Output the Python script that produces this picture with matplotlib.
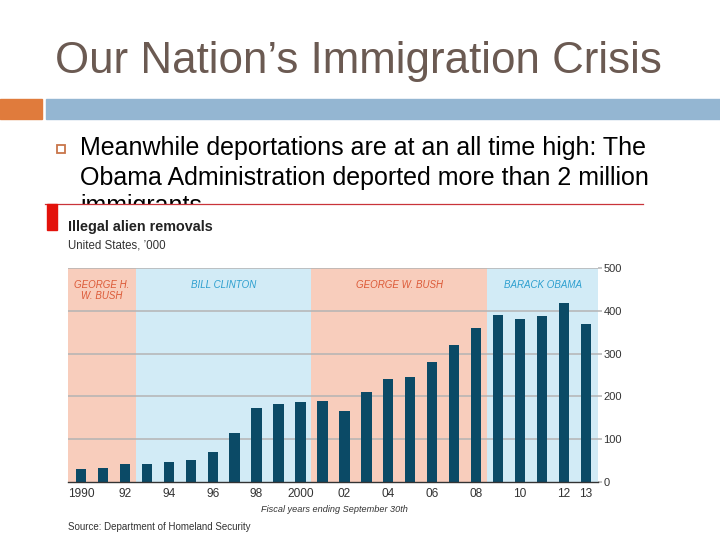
#!/usr/bin/env python3
"""Slide: Our Nation's Immigration Crisis, with the illegal alien removals chart."""

import matplotlib
matplotlib.use("Agg")
import matplotlib.pyplot as plt
from matplotlib.patches import Rectangle

# ---------------------------------------------------------------------------
# Data
# ---------------------------------------------------------------------------

years = list(range(1990, 2014))
removals = [30, 33, 43, 43, 46, 51, 70, 114, 174, 183, 188, 189,
            165, 211, 240, 246, 281, 319, 359, 391, 382, 387, 418, 368]

tick_years = [1990, 1992, 1994, 1996, 1998, 2000, 2002, 2004, 2006, 2008, 2010, 2012, 2013]
tick_labels = ["1990", "92", "94", "96", "98", "2000", "02", "04", "06", "08", "10", "12", "13"]
y_ticks = [0, 100, 200, 300, 400, 500]

# presidencies: (start, end, label)
terms = [
    (1989.41, 1992.5, "GEORGE H.\nW. BUSH"),
    (1992.5, 2000.5, "BILL CLINTON"),
    (2000.5, 2008.5, "GEORGE W. BUSH"),
    (2008.5, 2013.55, "BARACK OBAMA"),
]

slide_title = "Our Nation\u2019s Immigration Crisis"
bullet_lines = [
    "Meanwhile deportations are at an all time high: The",
    "Obama Administration deported more than 2 million",
    "immigrants",
]
bullet_baselines = [154.5, 184.5, 213]   # px from top

# ---------------------------------------------------------------------------
# Style
# ---------------------------------------------------------------------------

W, H = 720, 540
FONT = "Liberation Sans"
PINK, BLUE = "#f8cdbc", "#d2ebf6"
PINK_TXT, BLUE_TXT = "#dc5a38", "#2d9fcf"
BAR = "#0b4a66"
DARK = "#333333"


def fx(x):
    return x / W


def fy(y):
    return 1 - y / H


fig = plt.figure(figsize=(W / 100, H / 100), dpi=100)
fig.patch.set_facecolor("white")

# --- slide header ---------------------------------------------------------
fig.text(fx(55), fy(72.5), slide_title, fontsize=31.6, color="#6b5a52",
         family=FONT, va="baseline", ha="left")
fig.patches.append(Rectangle((fx(0), fy(119)), fx(42), 20 / H,
                             transform=fig.transFigure, color="#e07b3c", zorder=1))
fig.patches.append(Rectangle((fx(46), fy(119)), fx(W - 46), 20 / H,
                             transform=fig.transFigure, color="#94b6d2", zorder=1))

# bullet
fig.patches.append(Rectangle((fx(56.5), fy(153)), 8 / W, 8 / H, transform=fig.transFigure,
                             facecolor="none", edgecolor="#c8754a", lw=1.3, zorder=2))
for line, yb in zip(bullet_lines, bullet_baselines):
    fig.text(fx(80.5), fy(yb), line, fontsize=18, color="black",
             family=FONT, va="baseline", ha="left", zorder=3)

# --- embedded chart image (covers the last bullet line) ---------------------
fig.patches.append(Rectangle((fx(45), 0), fx(600), fy(204), transform=fig.transFigure,
                             facecolor="white", edgecolor="none", zorder=4))
fig.lines.append(plt.Line2D([fx(45), fx(643)], [fy(204), fy(204)], transform=fig.transFigure,
                            color="#c9343a", lw=0.9, zorder=5))
fig.patches.append(Rectangle((fx(47), fy(230)), 10 / W, 26 / H, transform=fig.transFigure,
                             color="#e3120b", zorder=5))

fig.text(fx(68), fy(230.5), "Illegal alien removals", fontsize=10.4, fontweight="bold",
         family=FONT, color="#222222", va="baseline", zorder=6)
fig.text(fx(68), fy(248), "United States, \u2019000", fontsize=8.3,
         family=FONT, color=DARK, va="baseline", zorder=6)

ax = fig.add_axes([fx(68), fy(482), 530 / W, 214 / H])
ax.set_zorder(6)
ax.set_xlim(terms[0][0], terms[-1][1])
ax.set_ylim(0, 500)

for i, (x0, x1, name) in enumerate(terms):
    ax.axvspan(x0, x1, color=PINK if i % 2 == 0 else BLUE, lw=0, zorder=0)
    ax.text((x0 + x1) / 2, 472, name, ha="center", va="top", fontsize=7,
            style="italic", family=FONT, linespacing=1.15,
            color=PINK_TXT if i % 2 == 0 else BLUE_TXT, zorder=3)

for v in y_ticks[1:]:
    ax.axhline(v, color="#b4b4b4", lw=1.1, zorder=1)

ax.bar(years, removals, width=0.47, color=BAR, zorder=2)

ax.set_xticks(tick_years)
ax.set_xticklabels(tick_labels, family=FONT, fontsize=8.6, color=DARK)
ax.tick_params(axis="x", length=0, pad=4)

ax.yaxis.tick_right()
ax.set_yticks(y_ticks)
ax.set_yticklabels([str(v) for v in y_ticks], family=FONT, fontsize=8, color=DARK)
ax.tick_params(axis="y", length=3, width=1.1, color="#b4b4b4", pad=1)

for side in ["top", "left", "right"]:
    ax.spines[side].set_visible(False)
ax.spines["bottom"].set_color(DARK)
ax.spines["bottom"].set_linewidth(1.0)

fig.text(fx(334), fy(509), "Fiscal years ending September 30th", fontsize=6.6,
         style="italic", family=FONT, color=DARK, ha="center", va="center", zorder=6)
fig.text(fx(68), fy(527), "Source: Department of Homeland Security", fontsize=7,
         family=FONT, color=DARK, ha="left", va="center", zorder=6)

fig.savefig("out.png", dpi=100)
plt.close(fig)
